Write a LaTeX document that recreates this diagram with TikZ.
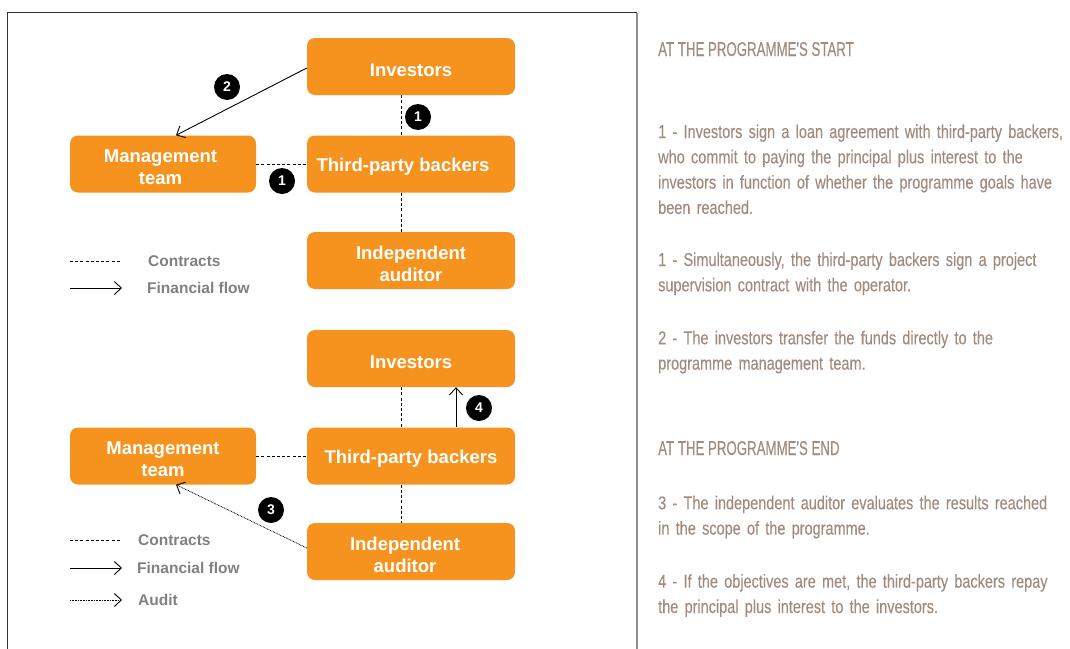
\documentclass[tikz,border=0pt]{standalone}
\usepackage{fontspec}
\setmainfont{Liberation Sans}
\newfontfamily\bodyfont[FakeStretch=0.775,WordSpace=0.8,FakeBold=0.2]{Liberation Sans}
\newfontfamily\headfont[FakeStretch=0.663,FakeBold=0.3]{Liberation Sans}
\usetikzlibrary{arrows.meta}
\definecolor{boxorange}{RGB}{246,147,30}
\definecolor{txtbrown}{RGB}{160,139,127}
\definecolor{leggray}{RGB}{128,128,128}
\newcommand\jline[1]{\makebox[406pt][s]{#1}}
\newcommand\bstrut{\rule{0pt}{19.5pt}}
\begin{document}
\begin{tikzpicture}[x=1pt,y=-1pt,
  actor/.style={fill=boxorange, rounded corners=8pt, minimum width=208pt,
    minimum height=57pt, text=white, inner sep=0pt, align=center,
    font=\fontsize{18.5}{22}\selectfont\bfseries},
  mgtbox/.style={actor, minimum width=186pt},
  badge/.style={circle, fill=black, minimum size=26pt, inner sep=0pt,
    text=white, font=\fontsize{14}{14}\selectfont\bfseries},
  contract/.style={draw=black, line width=0.8pt, dash pattern=on 3pt off 2.2pt},
  flow/.style={draw=black, line width=0.9pt, -{Straight Barb[length=7pt,width=13pt,line width=0.9pt]}},
  audit/.style={draw=black, line width=0.8pt, dash pattern=on 0.8pt off 0.8pt,
    -{Straight Barb[length=7pt,width=13pt,line width=0.9pt]}},
  legtext/.style={anchor=west, inner sep=0pt, text=leggray,
    font=\fontsize{15.5}{18}\selectfont\bfseries},
  head/.style={anchor=base west, inner sep=0pt, text=txtbrown,
    font=\headfont\fontsize{20}{24}\selectfont},
  para/.style={anchor=base west, inner sep=0pt, text=txtbrown, align=left,
    text width=406pt, font=\bodyfont\fontsize{18.7}{25.3}\selectfont}
]
\useasboundingbox (0,0) rectangle (1070,648);
% frame
\draw[draw=black!80, line width=1pt] (7.5,660) -- (7.5,12.5) -- (637,12.5);
\draw[draw=black!45, line width=1.5pt] (637,12.5) -- (637,660);

% ---------- top diagram ----------
\node[actor]  (inv1) at (411,66.5) {\bstrut Investors};
\node[actor]  (tpb1) at (411,164)  {\bstrut Third-party backers\hspace*{16pt}};
\node[actor]  (aud1) at (411,260.5) {\bstrut Independent\\auditor};
\node[mgtbox] (mgt1) at (163,164)  {\bstrut Management\hspace*{5pt}\\team\hspace*{5pt}};

\coordinate (vx) at (401,0);
\draw[contract] (inv1.south -| vx) -- (tpb1.north -| vx);
\draw[contract] (tpb1.south -| vx) -- (aud1.north -| vx);
\draw[contract] (mgt1.east) -- (tpb1.west);
\draw[flow] ([yshift=-1.5pt]inv1.west) -- ([xshift=13pt]mgt1.north);

\node[badge] (b2)  at (227,87)  {2};
\node[badge] (b1a) at (418,117) {1};
\node[badge] (b1b) at (282,181) {1};

\coordinate (la1) at (70,261);  \coordinate (lb1) at (121,261);
\coordinate (la2) at (70,288);  \coordinate (lb2) at (122,288);
\draw[contract] (la1) -- (lb1);
\draw[flow] (la2) -- (lb2);
\node[legtext] (lt1) at (148,261) {Contracts};
\node[legtext] (lt2) at (147,288) {Financial flow};

% ---------- bottom diagram ----------
\node[actor]  (inv2) at (411,358.5) {\bstrut Investors};
\node[actor]  (tpb2) at (411,456)  {\bstrut Third-party backers};
\node[actor]  (aud2) at (411,551.5) {\bstrut Independent\hspace*{12pt}\\auditor\hspace*{12pt}};
\node[mgtbox] (mgt2) at (163,456)  {\bstrut Management\\team};

\draw[contract] (inv2.south -| vx) -- (tpb2.north -| vx);
\draw[contract] (tpb2.south -| vx) -- (aud2.north -| vx);
\draw[contract] (mgt2.east) -- (tpb2.west);
\coordinate (fx) at (456,0);
\draw[flow] (tpb2.north -| fx) -- (inv2.south -| fx);
\draw[audit] ([yshift=3.5pt]aud2.west) -- ([xshift=13pt]mgt2.south);

\node[badge] (b4) at (479,408) {4};
\node[badge] (b3) at (271,510) {3};

\coordinate (la3) at (70,540);  \coordinate (lb3) at (121,540);
\coordinate (la4) at (70,568);  \coordinate (lb4) at (122,568);
\coordinate (la5) at (70,600);  \coordinate (lb5) at (122,600);
\draw[contract] (la3) -- (lb3);
\draw[flow] (la4) -- (lb4);
\draw[audit] (la5) -- (lb5);
\node[legtext] (lt3) at (138,540) {Contracts};
\node[legtext] (lt4) at (137,568) {Financial flow};
\node[legtext] (lt5) at (138,600) {Audit};

% ---------- right text ----------
\node[head] (h1) at (658,56) {AT THE PROGRAMME'S START};
\node[para] (p1) at (658,138) {\jline{1 - Investors sign a loan agreement with third-party backers,}\\
\jline{who commit to paying the principal plus interest to the}\\
\jline{investors in function of whether the programme goals have}\\
been reached.};
\node[para] (p2) at (658,266) {\jline{1 - Simultaneously, the third-party backers sign a project}\\
supervision contract with the operator.};
\node[para] (p3) at (658,344.3) {\jline{2 - The investors transfer the funds directly to the}\\
programme management team.};
\node[head] (h2) at (658,455) {AT THE PROGRAMME'S END};
\node[para] (p4) at (658,509.3) {3 - The independent auditor evaluates the results reached\\
in the scope of the programme.};
\node[para] (p5) at (658,587.7) {\jline{4 - If the objectives are met, the third-party backers repay}\\
the principal plus interest to the investors.};
\end{tikzpicture}
\end{document}
